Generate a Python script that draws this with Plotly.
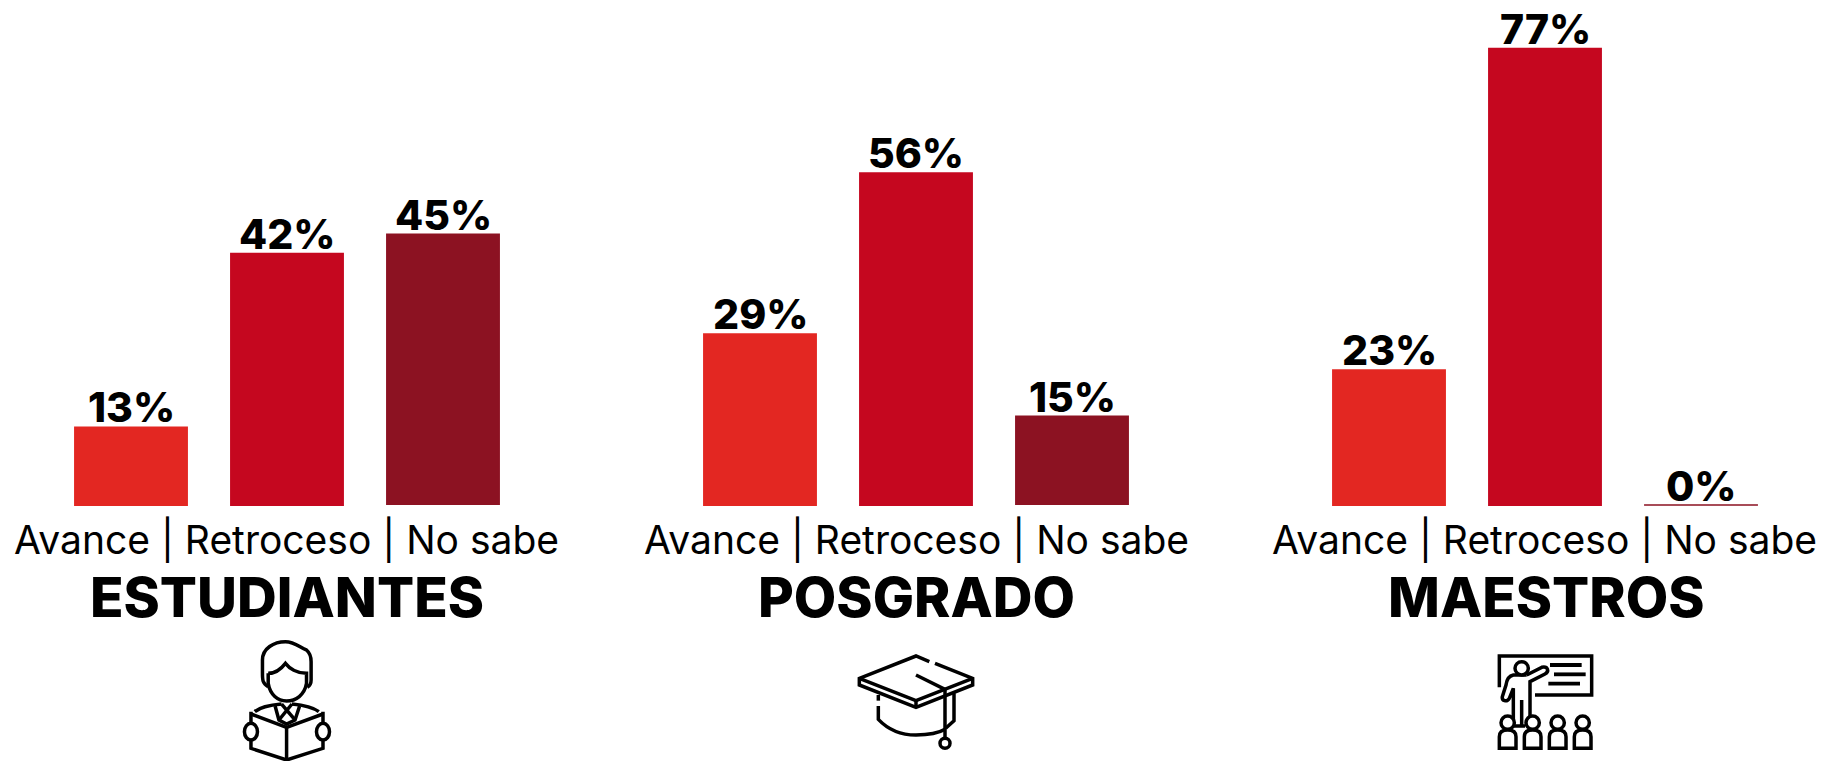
import plotly.graph_objects as go

W, H = 1822, 761

panels = ["ESTUDIANTES", "POSGRADO", "MAESTROS"]
caption = "Avance | Retroceso | No sabe"
categories = ["Avance", "Retroceso", "No sabe"]
estudiantes = [13.2, 42, 45]
posgrado = [29, 56, 15]
maestros = [23, 77, 0]
colors = ["#E32722", "#C5071F", "#8C1222"]

series = [estudiantes, posgrado, maestros]
x_domains_px = [(53, 521), (682, 1150), (1311, 1779)]
px_per_unit = [6.03, 5.96, 5.95]
baseline_px = 506
y_top_units = 80
bases = [0, 0, 0.17]

FONT = "Inter"
fig = go.Figure()


def px(x):
    return x / W


def py(y):
    return 1 - y / H


layout_axes = {}
annotations = []
for i, vals in enumerate(series):
    n = "" if i == 0 else str(i + 1)
    fig.add_trace(go.Bar(
        x=categories, y=vals, base=bases,
        marker=dict(color=colors, line=dict(color=colors, width=[0, 0, 1.5 if vals[2] == 0 else 0])),
        cliponaxis=False, xaxis=f"x{n}", yaxis=f"y{n}", showlegend=False,
    ))
    for c, v, b in zip(categories, vals, bases):
        annotations.append(dict(text=f"{round(v)}%", x=c, y=v + b, xref=f"x{n}", yref=f"y{n}",
                                xanchor="center", yanchor="bottom", yshift=-8, showarrow=False,
                                font=dict(family=FONT, size=41, color="#000000", weight=800)))
    x0, x1 = x_domains_px[i]
    top = baseline_px - y_top_units * px_per_unit[i]
    layout_axes[f"xaxis{n}"] = dict(domain=[px(x0), px(x1)], visible=False, type="category",
                                    range=[-0.5, 2.5], fixedrange=True)
    layout_axes[f"yaxis{n}"] = dict(domain=[py(baseline_px), py(top)], visible=False,
                                    range=[0, y_top_units], fixedrange=True)

caption_x = [286, 916, 1544]
title_x = [287, 916, 1546]
for i, name in enumerate(panels):
    annotations.append(dict(text=caption, xref="paper", yref="paper", x=px(caption_x[i]), y=py(539),
                            xanchor="center", yanchor="middle", showarrow=False,
                            font=dict(family=FONT, size=39, color="#000000", weight=400)))
    annotations.append(dict(text=name, xref="paper", yref="paper", x=px(title_x[i]), y=py(597),
                            xanchor="center", yanchor="middle", showarrow=False,
                            font=dict(family=FONT, size=55, color="#000000", weight=800)))

shapes = []
STROKE = 3.5


def path(points_cmds, tx):
    out = []
    for tok in points_cmds.split():
        if tok[0].isalpha():
            out.append(tok[0])
            tok = tok[1:]
            if not tok:
                continue
        a, b = tok.split(",")
        xx, yy = tx(float(a), float(b))
        out.append(f"{px(xx):.5f},{py(yy):.5f}")
    return " ".join(out)


def add_path(d, tx, width=STROKE):
    shapes.append(dict(type="path", path=path(d, tx), xref="paper", yref="paper",
                       line=dict(color="#000000", width=width), fillcolor="rgba(0,0,0,0)"))


def add_ellipse(cx, cy, rx, ry, tx, width=STROKE):
    x0, y0 = tx(cx - rx, cy - ry)
    x1, y1 = tx(cx + rx, cy + ry)
    shapes.append(dict(type="circle", xref="paper", yref="paper",
                       x0=px(x0), x1=px(x1), y0=py(y0), y1=py(y1),
                       line=dict(color="#000000", width=width), fillcolor="#FFFFFF"))


# icon: student
ts = lambda X, Y: (X / 2.61, 400 + Y / 3)
for d in [
    "M700,860 C685,850 685,840 685,820 L685,780 C685,745 715,725 745,725 C770,725 785,745 800,750 C810,760 812,770 812,785 L812,840 C812,850 808,858 802,862",
    "M700,820 L700,850 C705,885 725,903 748,903 C772,903 795,885 800,850 L800,820 C775,820 755,805 745,790 C735,805 720,820 700,820",
    "M665,935 C680,920 705,915 735,912",
    "M762,912 C790,915 815,920 832,935",
    "M735,912 L770,960",
    "M762,912 L728,960",
    "M718,918 L728,960 L748,972 L770,960 L782,918",
    "M655,935 L655,1045 L748,1080 L843,1045 L843,935",
    "M655,942 L748,982 L843,942",
    "M748,982 L748,1080",
]:
    add_path(d, ts)
add_ellipse(655, 995, 17, 25, ts)
add_ellipse(843, 995, 17, 25, ts)

# icon: graduation cap
tg = lambda X, Y: (800 + X / 3, 630 + Y / 3)
for d in [
    "M388,95 L348,78 L178,145 L178,165 L348,232 L518,165 L518,145 L405,100",
    "M178,145 L348,212 L518,145",
    "M348,212 L348,232",
    "M348,135 L435,178 L435,325",
    "M235,195 L235,212",
    "M235,228 L235,268 C270,305 310,315 348,315 C385,315 415,310 435,298",
    "M462,190 L462,272 L437,295",
]:
    add_path(d, tg)
add_ellipse(435, 340, 15, 15, tg)

# icon: teacher
tt = lambda X, Y: (1450 + X / 3, 630 + Y / 3)
for d in [
    "M148,172 L148,78 L425,78 L425,195 L255,195",
    "M230,135 L275,112 C295,108 298,125 285,132 L240,155 L240,262",
    "M230,135 L190,135 C175,138 170,150 168,165 L157,200 C155,212 170,218 178,205 L190,175 L190,288 L225,288",
    "M215,210 L215,288",
]:
    add_path(d, tt)
for d in ["M300,105 L395,105", "M312,133 L407,133", "M295,161 L390,161"]:
    add_path(d, tt, width=3.8)
add_ellipse(215, 115, 20, 20, tt)
for cx in [173, 248, 323, 398]:
    add_path(f"M{cx-25},355 L{cx-25},320 C{cx-25},305 {cx-15},300 {cx},300 C{cx+15},300 {cx+25},305 {cx+25},320 L{cx+25},355 Z", tt)
    add_ellipse(cx, 278, 20, 20, tt)

fig.update_layout(
    width=W, height=H, margin=dict(l=0, r=0, t=0, b=0),
    paper_bgcolor="#FFFFFF", plot_bgcolor="#FFFFFF",
    bargap=0.27, annotations=annotations, shapes=shapes,
    **layout_axes,
)
fig.write_html("out.html", config={"displayModeBar": False},
               post_script="document.body.style.margin='0';document.body.style.overflow='hidden';")
